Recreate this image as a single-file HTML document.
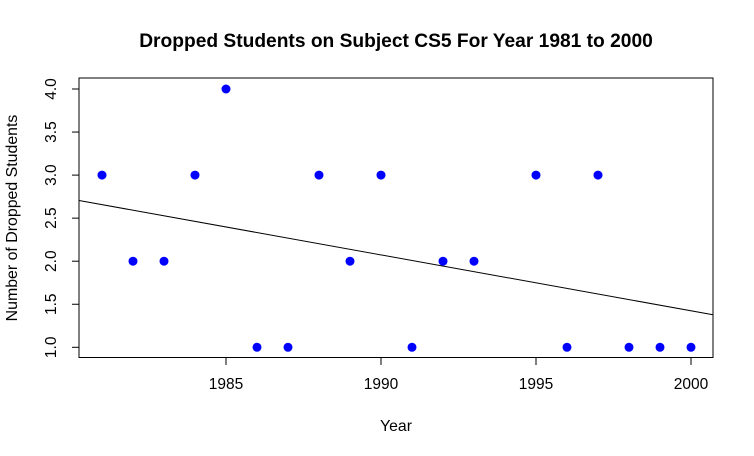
<!DOCTYPE html>
<html><head><meta charset="utf-8"><style>
html,body{margin:0;padding:0;background:#fff}
svg{display:block;font-family:"Liberation Sans",Arial,sans-serif}
</style></head><body>
<svg width="754" height="456" viewBox="0 0 754 456">
<text x="396" y="47" text-anchor="middle" font-size="19.2" font-weight="bold">Dropped Students on Subject CS5 For Year 1981 to 2000</text>
<rect x="79" y="78" width="634" height="279.5" fill="none" stroke="#000" stroke-width="1"/>
<g id="xaxis"></g>
<g id="yaxis"></g>
<g id="trend"></g>
<g id="pts"></g>
<text x="396" y="431" text-anchor="middle" font-size="15.8">Year</text>
<text transform="translate(17,218) rotate(-90)" text-anchor="middle" font-size="15.9">Number of Dropped Students</text>
</svg>
<script>
const years=[1981,1982,1983,1984,1985,1986,1987,1988,1989,1990,1991,1992,1993,1995,1996,1997,1998,1999,2000];
const dropped=[3,2,2,3,4,1,1,3,2,3,1,2,2,3,1,3,1,1,1];
const xTicks=[1985,1990,1995,2000];
const yTicks=[1.0,1.5,2.0,2.5,3.0,3.5,4.0];
const NS='http://www.w3.org/2000/svg';
function sx(v){return 102+(v-1981)*31.0;}
function sy(v){return 347.3-(v-1)*86.1;}
function mk(t,a,p){const e=document.createElementNS(NS,t);for(const k in a)e.setAttribute(k,a[k]);p.appendChild(e);return e;}
const xa=document.getElementById('xaxis'),ya=document.getElementById('yaxis');
const x0=sx(xTicks[0]),x1=sx(xTicks[xTicks.length-1]);
let l=mk('line',{x1:x0,x2:x1,y1:357.5,y2:357.5,stroke:'#000'},xa);


xTicks.forEach(v=>{
 const t=mk('line',{x1:sx(v),x2:sx(v),y1:357.5,y2:365,stroke:'#000'},xa);
 
 
 const tx=mk('text',{x:sx(v),y:389,'text-anchor':'middle','font-size':15.5},xa);tx.textContent=v;
 
 
});
let l2=mk('line',{x1:79,x2:79,y1:sy(yTicks[0]),y2:sy(yTicks[yTicks.length-1]),stroke:'#000'},ya);


yTicks.forEach(v=>{
 const t=mk('line',{x1:72,x2:79,y1:sy(v),y2:sy(v),stroke:'#000'},ya);
 
 
 const tx=mk('text',{transform:`translate(56,${sy(v)}) rotate(-90)`,'text-anchor':'middle','font-size':15.5},ya);tx.textContent=v.toFixed(1);
 
 
});
const n=years.length;const mx=years.reduce((a,b)=>a+b)/n,my=dropped.reduce((a,b)=>a+b)/n;
let sxy=0,sxx=0;for(let i=0;i<n;i++){sxy+=(years[i]-mx)*(dropped[i]-my);sxx+=(years[i]-mx)**2;}
const b=sxy/sxx,a=my-b*mx;
const xl=1981+(79-102)/31,xr=1981+(713-102)/31;
const tr=mk('line',{x1:79,x2:713,y1:sy(a+b*xl),y2:sy(a+b*xr),stroke:'#000','stroke-width':1},document.getElementById('trend'));


const pg=document.getElementById('pts');
years.forEach((y,i)=>{
 const c=mk('circle',{cx:sx(y),cy:sy(dropped[i]),r:4.5,fill:'#0000ff'},pg);
 
 
});
</script>
</body></html>
